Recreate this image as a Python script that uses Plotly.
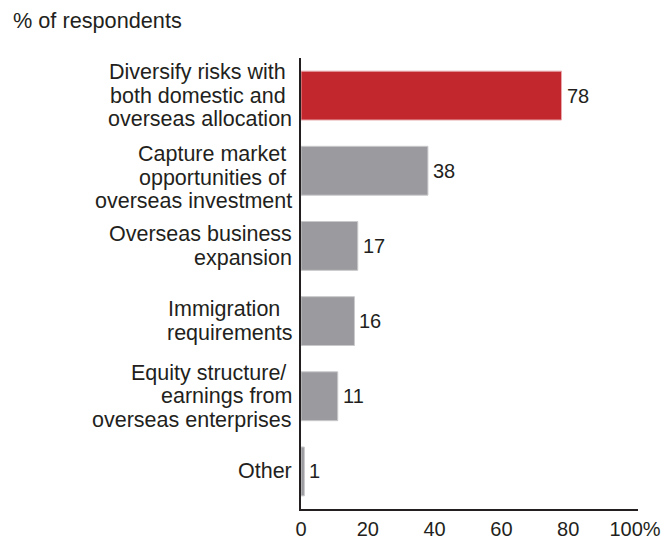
import plotly.graph_objects as go

# Survey results: reasons for overseas asset allocation
categories = [
    "Diversify risks with\u00a0<br>both domestic and\u00a0<br>overseas allocation",
    "Capture market\u00a0<br>opportunities of\u00a0<br>overseas investment",
    "Overseas business<br>expansion",
    "Immigration\u00a0\u00a0<br>requirements",
    "Equity structure/\u00a0<br>earnings from<br>overseas enterprises",
    "Other",
]
values = [78, 38, 17, 16, 11, 1]
highlight = [True, False, False, False, False, False]

tick_values = [0, 20, 40, 60, 80, 100]
tick_labels = ["0", "20", "40", "60", "80", "100%"]

FONT = "Liberation Sans, Arial, Helvetica, sans-serif"
INK = "#231f20"
RED = "#c1272d"
GREY = "#9b9b9f"

bar_colors = [RED if h else GREY for h in highlight]
edge_colors = ["#e8a9ad" if h else "#c9c9cc" for h in highlight]

fig = go.Figure(
    go.Bar(
        x=values,
        y=categories,
        orientation="h",
        width=0.65,
        marker=dict(color=bar_colors, line=dict(color=edge_colors, width=1)),
        hoverinfo="skip",
    )
)

annotations = []
LINE_H = 23.5
label_offsets = [0, -7, 0, 0, 0, 0]
for cat, off in zip(categories, label_offsets):
    lines = cat.split("<br>")
    n = len(lines)
    for i, line in enumerate(lines):
        annotations.append(
            dict(
                x=0, xref="paper", y=cat, yref="y",
                text=line, showarrow=False,
                xanchor="right", yanchor="middle",
                xshift=-7, yshift=((n - 1) / 2 - i) * LINE_H + off,
                font=dict(family=FONT, size=21.5, color=INK),
            )
        )

for cat, v in zip(categories, values):
    annotations.append(
        dict(
            x=v, xref="x", y=cat, yref="y",
            text=str(v), showarrow=False,
            xanchor="left", yanchor="middle",
            xshift=3,
            font=dict(family=FONT, size=20, color=INK),
        )
    )

fig.update_layout(
    width=664,
    height=540,
    margin=dict(l=301, r=26, t=58, b=31, autoexpand=False),
    paper_bgcolor="white",
    plot_bgcolor="white",
    showlegend=False,
    bargap=0.35,
    font=dict(family=FONT, color=INK),
    title=dict(
        text="% of respondents",
        x=13 / 664, xanchor="left", xref="container",
        y=1 - 20 / 540, yanchor="middle", yref="container",
        font=dict(family=FONT, size=21.7, color=INK),
    ),
    xaxis=dict(
        range=[0, 100.9],
        tickvals=tick_values,
        ticktext=tick_labels,
        tickfont=dict(family=FONT, size=20, color=INK),
        ticklabelstandoff=1,
        showgrid=False,
        zeroline=False,
        showline=True,
        linecolor=INK,
        linewidth=2,
        ticks="",
        automargin=False,
        fixedrange=True,
    ),
    yaxis=dict(
        categoryorder="array",
        categoryarray=categories,
        autorange="reversed",
        showticklabels=False,
        showgrid=False,
        zeroline=False,
        showline=True,
        linecolor=INK,
        linewidth=2,
        ticks="",
        automargin=False,
        fixedrange=True,
    ),
    annotations=annotations,
)

fig.write_html("out.html", config={"displayModeBar": False})
